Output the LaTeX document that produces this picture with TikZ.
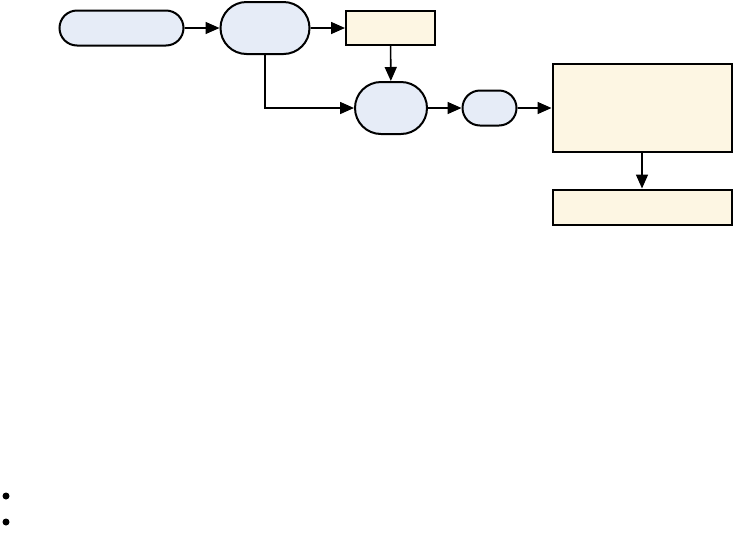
\documentclass[tikz,border=0pt]{standalone}
\usetikzlibrary{shapes.misc,arrows.meta}
\definecolor{bluefill}{RGB}{230,236,247}
\definecolor{creamfill}{RGB}{253,246,227}
\begin{document}
\begin{tikzpicture}[x=1pt,y=-1pt,
  pill/.style={rounded rectangle,draw=black,line width=2pt,fill=bluefill,inner sep=0pt},
  box/.style={rectangle,draw=black,line width=2pt,fill=creamfill,inner sep=0pt},
  conn/.style={line width=1.6pt,-{Triangle[length=14pt,width=12pt]}}]
\useasboundingbox (0,0) rectangle (733,539);
\node[pill,minimum width=124pt,minimum height=35pt] (a) at (121.5,28) {};
\node[pill,minimum width=89pt,minimum height=52pt] (b) at (265,28) {};
\node[box,minimum width=89pt,minimum height=34pt] (c) at (390.5,28) {};
\node[pill,minimum width=72pt,minimum height=52pt] (d) at (391,108) {};
\node[pill,minimum width=54pt,minimum height=35pt] (e) at (489.5,108) {};
\node[box,minimum width=179pt,minimum height=88pt] (f) at (642,108) {};
\node[box,minimum width=179pt,minimum height=35pt] (g) at (642,207) {};
\coordinate (bend) at (265,108);
\draw[conn] (a) -- (b);
\draw[conn] (b) -- (c);
\draw[conn] (c) -- (d);
\draw[conn] (b.south) -- (bend) -- (d.west);
\draw[conn] (d) -- (e);
\draw[conn] (e) -- (f);
\draw[conn] (f) -- (g);
\node[circle,fill=black,inner sep=0pt,minimum size=7pt] (p1) at (6,496) {};
\node[circle,fill=black,inner sep=0pt,minimum size=7pt] (p2) at (6,522) {};
\end{tikzpicture}
\end{document}
